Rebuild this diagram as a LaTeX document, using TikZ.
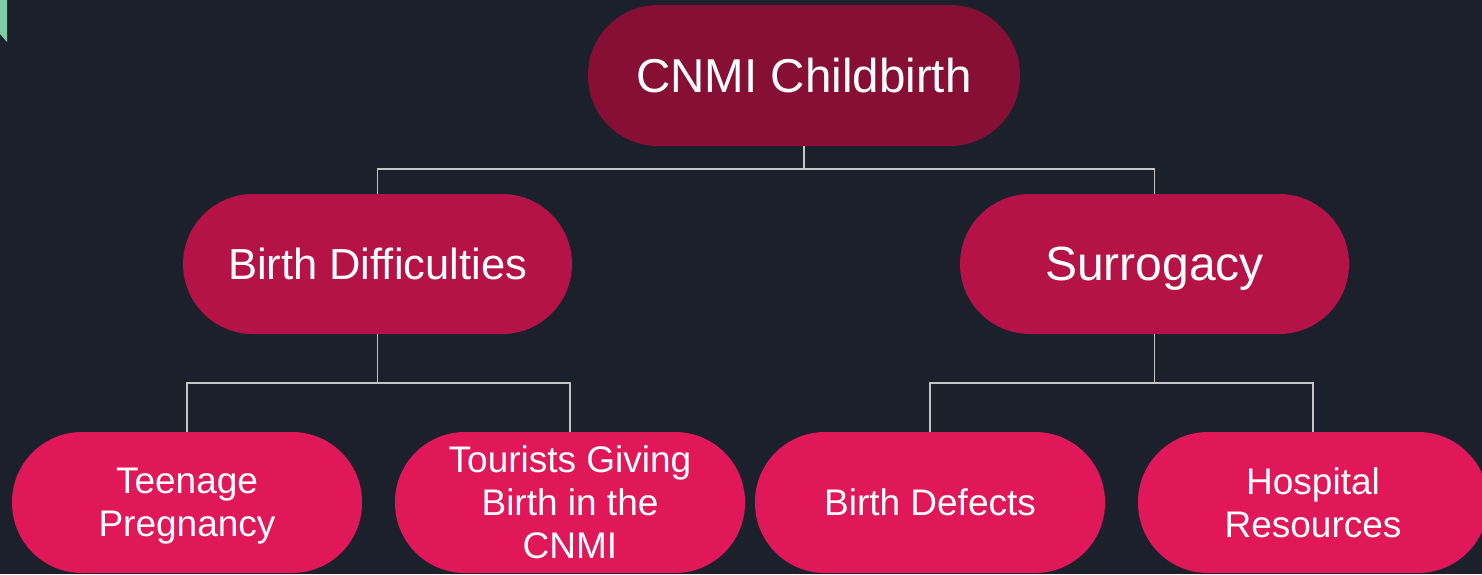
\documentclass[tikz,border=0pt]{standalone}
\usepackage{fontspec}
\setmainfont{Liberation Sans}
\definecolor{bg}{HTML}{1C202B}
\definecolor{rootc}{HTML}{870F36}
\definecolor{midc}{HTML}{B51248}
\definecolor{leafc}{HTML}{E0185A}
\definecolor{linec}{HTML}{C4C4C4}
\definecolor{accent}{HTML}{7FCBA6}
\newcommand{\nodepth}[1]{\raisebox{0pt}[\height][0pt]{#1}}
\tikzset{
  pill/.style={rectangle, rounded corners=70pt, inner sep=0pt, text=white, align=center},
  rootbox/.style={pill, fill=rootc, minimum width=432pt, minimum height=141pt, font=\fontsize{47.5}{52}\selectfont},
  midbox/.style={pill, fill=midc, minimum width=389pt, minimum height=140pt},
  leafbox/.style={pill, fill=leafc, minimum width=350pt, minimum height=141pt, font=\fontsize{37}{43}\selectfont},
  conn/.style={draw=linec, line width=1.6pt}
}
\begin{document}
\begin{tikzpicture}[x=1pt,y=-1pt]
\fill[bg] (0,0) rectangle (1482,574);
\useasboundingbox (0,0) rectangle (1482,574);
\clip (0,0) rectangle (1482,574);
\fill[accent] (0,0) -- (7,0) -- (7,42) -- (0,34) -- cycle;
\node[rootbox] (root) at (804,75.5) {CNMI Childbirth};
\node[midbox, font=\fontsize{43.5}{48}\selectfont] (bd) at (377.5,264) {Birth Difficulties};
\node[midbox, font=\fontsize{48}{52}\selectfont] (sur) at (1154.5,264) {\nodepth{Surrogacy}};
\node[leafbox] (teen) at (187,502.5) {Teenage\\\nodepth{Pregnancy}};
\node[leafbox] (tour) at (570,502.5) {Tourists Giving\\Birth in the\\CNMI};
\node[leafbox] (def) at (930,502.5) {Birth Defects};
\node[leafbox] (hosp) at (1313,502.5) {Hospital\\Resources};
\coordinate (j1) at (804,169);
\coordinate (j2) at (377.5,383);
\coordinate (j3) at (1154.5,383);
\draw[conn] (root.south) -- (j1);
\draw[conn] (j1) -| (bd.north);
\draw[conn] (j1) -| (sur.north);
\draw[conn] (bd.south) -- (j2);
\draw[conn] (j2) -| (teen.north);
\draw[conn] (j2) -| (tour.north);
\draw[conn] (sur.south) -- (j3);
\draw[conn] (j3) -| (def.north);
\draw[conn] (j3) -| (hosp.north);
\end{tikzpicture}
\end{document}
